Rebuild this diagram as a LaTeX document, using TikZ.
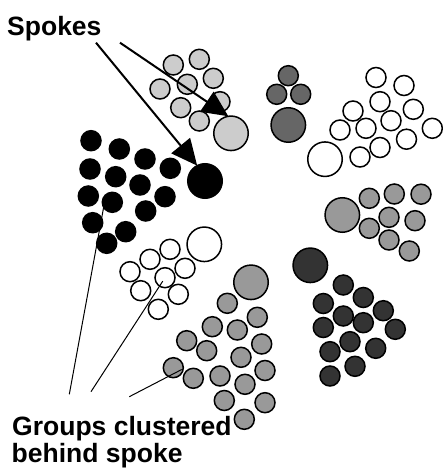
\documentclass[tikz,border=0pt]{standalone}
\usepackage{fontspec}
\setmainfont{Liberation Sans}
\usetikzlibrary{arrows.meta,calc}
\tikzset{
  dot/.style={circle, draw=black, line width=1.5pt, minimum size=20pt, inner sep=0pt, outer sep=0pt},
  bigdot/.style={dot, minimum size=34.5pt},
  clg/.style={fill=black!20},
  cbk/.style={fill=black},
  cwh/.style={fill=white},
  cgr/.style={fill=black!40},
  cdg/.style={fill=black!60},
  cdk/.style={fill=black!80},
  lbl/.style={font=\bfseries\fontsize{26.5pt}{30pt}\selectfont, inner sep=0pt, anchor=base west},
  spokearrow/.style={line width=2pt, -{Triangle[length=26pt,width=24pt]}},
  pointer/.style={line width=1pt}
}
\begin{document}
\begin{tikzpicture}[x=1pt,y=-1pt]
\useasboundingbox (0,0) rectangle (443,476);
% light gray cluster
\foreach \n/\p in {1/{173.3,65},2/{199.3,59.3},3/{213.3,78.3},4/{187.3,84.3},5/{160,89},6/{180.7,107.7},7/{220,101.7},8/{199.3,121}}
  \node[dot,clg] (lg\n) at (\p) {};
\node[bigdot,clg] (lgB) at (231,133.3) {};
% black cluster
\foreach \n/\p in {1/{91,140.7},2/{119.3,149},3/{145,159},4/{170.3,168.3},5/{90,169},6/{115.7,176.7},7/{140,185},8/{165,196.7},9/{88.3,196},10/{112.3,202.3},11/{145.7,211},12/{92.7,222.7},13/{125.7,231.7},14/{106.7,243.3}}
  \node[dot,cbk] (bk\n) at (\p) {};
\node[bigdot,cbk] (bkB) at (205,181) {};
% white left cluster
\foreach \n/\p in {1/{170,249.3},2/{150,259.3},3/{130,271.7},4/{185,268.3},5/{165,277.7},6/{140.7,290.7},7/{178.3,294.3},8/{158.3,309.3}}
  \node[dot,cwh] (wl\n) at (\p) {};
\node[bigdot,cwh] (wlB) at (204.3,244.3) {};
% gray bottom cluster
\node[bigdot,cgr] (gbB) at (251,282.3) {};
\foreach \n/\p in {1/{227.3,303.3},2/{257.3,317.3},3/{212.3,326.7},4/{237.3,330},5/{186.7,340.7},6/{261.7,344},7/{206.7,350.7},8/{241,357.3},9/{173.3,367.7},10/{265,370.5},11/{193.3,378.3},12/{220,376},13/{245,384.3},14/{224.3,400.5},15/{265,402.7},16/{244.3,419.3}}
  \node[dot,cgr] (gb\n) at (\p) {};
% dark cluster
\node[bigdot,cdk] (dkB) at (310.3,265.3) {};
\foreach \n/\p in {1/{343.3,285},2/{323.3,303.5},3/{363.3,297.5},4/{343.3,316},5/{383.3,310.7},6/{323.3,327.5},7/{363.3,322.7},8/{395.3,329.3},9/{350,341.7},10/{330,351.7},11/{375.7,348.3},12/{355,366.3},13/{330,376}}
  \node[dot,cdk] (dk\n) at (\p) {};
% dark gray top cluster
\foreach \n/\p in {1/{288.3,75.7},2/{276.7,94.3},3/{300.7,94.3}}
  \node[dot,cdg] (dg\n) at (\p) {};
\node[bigdot,cdg] (dgB) at (288.3,125) {};
% white right cluster
\foreach \n/\p in {1/{376,77.5},2/{404,85.5},3/{380,101.7},4/{353,111},5/{413.3,109.3},6/{391,120.7},7/{340,130},8/{366,128.3},9/{432.3,128.3},10/{406.5,139.2},11/{380,147.5},12/{360,157}}
  \node[dot,cwh] (wr\n) at (\p) {};
\node[bigdot,cwh] (wrB) at (325,159.2) {};
% gray right cluster
\node[bigdot,cgr] (grB) at (342.3,215) {};
\foreach \n/\p in {1/{369.3,198.3},2/{394.3,194},3/{421,194.2},4/{389,217.3},5/{415,220.7},6/{369.3,228.3},7/{389,240},8/{409.3,251}}
  \node[dot,cgr] (gr\n) at (\p) {};
% labels
\node[lbl] (spokes) at (7,35.7) {Spokes};
\node[lbl] (groups1) at (12,435.7) {Groups clustered};
\node[lbl] (groups2) at (11.5,462.3) {behind spoke};
% spoke arrows
\coordinate (sa) at (120,42.7);
\coordinate (sb) at (96,42.7);
\draw[spokearrow] (sa) -- (lgB.99);
\draw[spokearrow] (sb) -- (bkB.117);
% pointer lines
\coordinate (pa) at (69.3,394.3);
\coordinate (pb) at (91,391.7);
\coordinate (pc) at (129.3,396.7);
\draw[pointer] (pa) -- (bk10.210);
\draw[pointer] (pb) -- ($(wl5.center)!4pt!(pb)$);
\draw[pointer] (pc) -- ($(gb9.center)+(8.4,1.8)$);
\end{tikzpicture}
\end{document}
